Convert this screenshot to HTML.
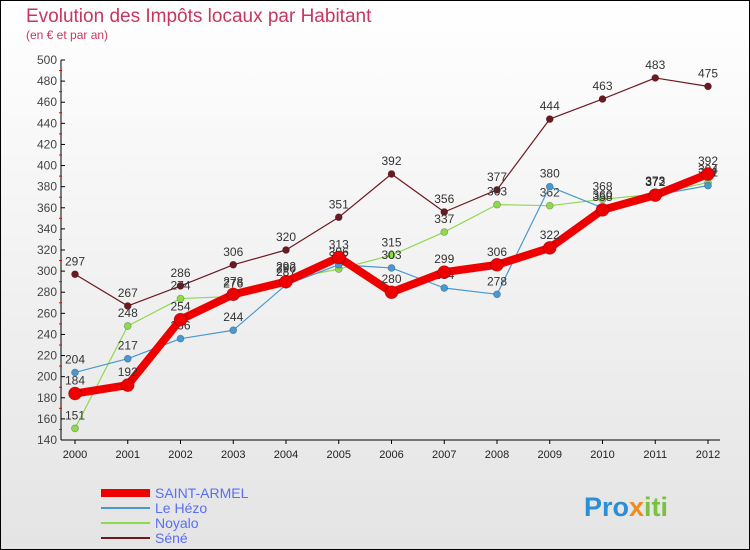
<!DOCTYPE html>
<html><head><meta charset="utf-8"><style>
body{margin:0;background:#fff}
svg{display:block;font-family:"Liberation Sans",sans-serif}
</style></head><body>
<svg id="c" width="750" height="550" xmlns="http://www.w3.org/2000/svg">
<defs><linearGradient id="bg" x1="0" y1="0" x2="0" y2="1"><stop offset="0" stop-color="#ffffff"/><stop offset="1" stop-color="#e4e4e4"/></linearGradient></defs>
<rect x="0.5" y="0.5" width="749" height="549" fill="url(#bg)" stroke="#000"/>
<text x="26" y="22" font-size="19" fill="#c8355f">Evolution des Impôts locaux par Habitant</text>
<text x="26" y="39" font-size="12" fill="#c8355f">(en € et par an)</text>
<g id="axes"></g>
<g id="series"></g>
<g id="legend"></g>
<text x="584" y="516" font-size="27" font-weight="bold"><tspan fill="#2a8fd6">Pro</tspan><tspan fill="#f08a1c">x</tspan><tspan fill="#7ac143">iti</tspan></text>
</svg>
<script>
const years=[2000,2001,2002,2003,2004,2005,2006,2007,2008,2009,2010,2011,2012];
const yTicks=[140,160,180,200,220,240,260,280,300,320,340,360,380,400,420,440,460,480,500];
const saintArmel=[184,192,254,278,290,313,280,299,306,322,358,372,392];
const leHezo=[204,217,236,244,287,306,303,284,278,380,360,372,381];
const noyalo=[151,248,274,276,292,302,315,337,363,362,368,373,384];
const sene=[297,267,286,306,320,351,392,356,377,444,463,483,475];
const NS="http://www.w3.org/2000/svg";
const X=i=>75+i*(708-75)/(years.length-1);
const Y=v=>440-(v-140)*380/360;
function mk(t,a,p){const e=document.createElementNS(NS,t);for(const k in a)e.setAttribute(k,a[k]);p.appendChild(e);return e;}
const ax=document.getElementById('axes');
const yl=mk('line',{x1:61,y1:Y(500),x2:61,y2:440,stroke:'#000'},ax);


const xl=mk('line',{x1:61,y1:440,x2:720,y2:440,stroke:'#000'},ax);


yTicks.forEach((v,i)=>{
  mk('line',{x1:61,y1:Y(v),x2:65,y2:Y(v),stroke:'#000'},ax);
  if(i<yTicks.length-1)mk('line',{x1:59,y1:Y(v+10),x2:62,y2:Y(v+10),stroke:'#e00'},ax);
  const t=mk('text',{x:57,y:Y(v)+4,'font-size':12,'text-anchor':'end',fill:'#444'},ax);
  t.textContent=v;
  
  
});
years.forEach((y,i)=>{
  mk('line',{x1:X(i),y1:440,x2:X(i),y2:444,stroke:'#000'},ax);
  const t=mk('text',{x:X(i),y:458,'font-size':11,'text-anchor':'middle',fill:'#222'},ax);
  t.textContent=y;
  
  
});
const sg=document.getElementById('series');
function draw(vals,color,w,r,name){
  const g=mk('g',{},sg);
  
  
  const pl=mk('polyline',{points:vals.map((v,i)=>X(i)+','+Y(v)).join(' '),fill:'none',stroke:color,'stroke-width':w,'stroke-linejoin':'round'},g);
  
  
  vals.forEach((v,i)=>{
    const c=mk('circle',{cx:X(i),cy:Y(v),r:r,fill:color,stroke:'rgba(0,0,0,0.3)','stroke-width':0.7},g);
    
    
    const t=mk('text',{x:X(i),y:Y(v)-9,'font-size':12,'text-anchor':'middle',fill:'#333'},g);
    t.textContent=v;
    
    
  });
}
draw(sene,'#6b1a1f',1.2,3.5,'sene');
draw(noyalo,'#8fd94f',1.2,3.5,'noyalo');
draw(leHezo,'#4a98d0',1.2,3.5,'le-hezo');
draw(saintArmel,'#ee0000',8,6.5,'saint-armel');
const lg=document.getElementById('legend');
const items=[['SAINT-ARMEL','#ee0000',8],['Le Hézo','#4a98d0',2],['Noyalo','#8fd94f',2],['Séné','#6b1a1f',2]];
items.forEach((it,i)=>{
  const y=493+i*15;
  const g=mk('g',{},lg);
  
  
  mk('line',{x1:101,y1:y,x2:150,y2:y,stroke:it[1],'stroke-width':it[2]},g);
  const t=mk('text',{x:155,y:y+5,'font-size':14,fill:'#5a6ef0'},g);
  t.textContent=it[0];
});
</script>
</body></html>
